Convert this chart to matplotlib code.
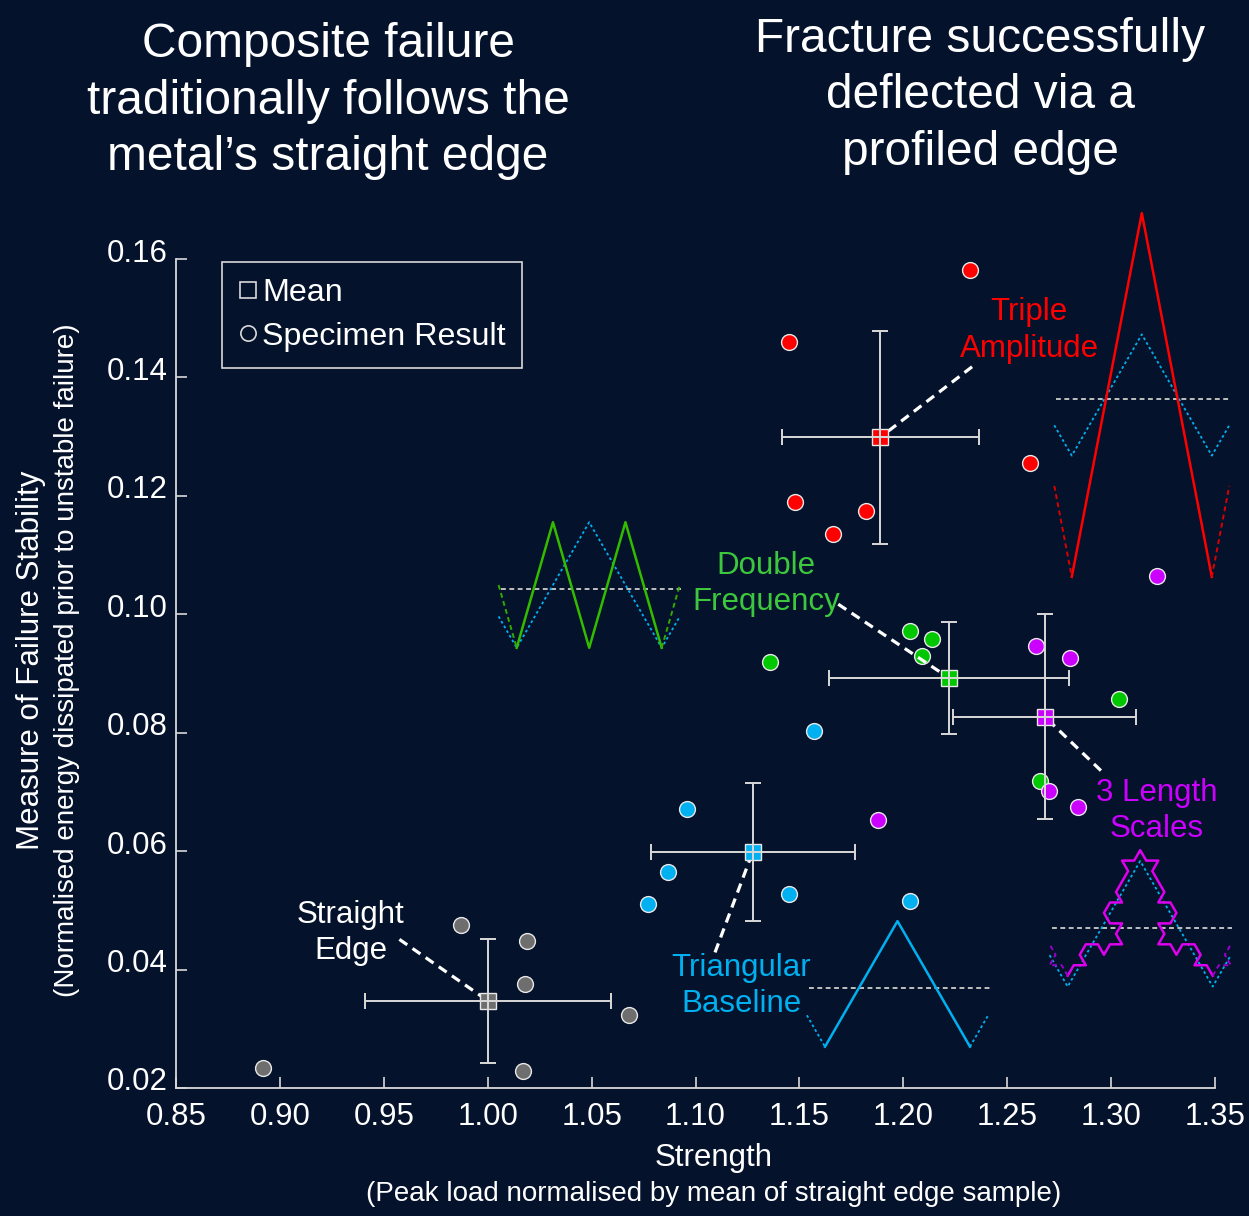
import numpy as np
import matplotlib.pyplot as plt
from matplotlib.lines import Line2D
from matplotlib.transforms import ScaledTranslation

plt.rcParams['font.family'] = ['Liberation Sans', 'DejaVu Sans']

BG = '#04122c'
W, H = 1249, 1216

# specimen results: strength vs failure stability
straight_x = [0.892, 0.987, 1.019, 1.018, 1.068, 1.017]
straight_y = [0.0234, 0.0475, 0.0448, 0.0375, 0.0323, 0.0228]
triangular_x = [1.096, 1.087, 1.077, 1.145, 1.203, 1.157]
triangular_y = [0.0671, 0.0564, 0.0511, 0.0527, 0.0515, 0.0803]
triple_x = [1.232, 1.145, 1.261, 1.148, 1.182, 1.166]
triple_y = [0.1581, 0.1460, 0.1255, 0.1189, 0.1175, 0.1135]
double_x = [1.203, 1.214, 1.209, 1.136, 1.304, 1.266]
double_y = [0.0971, 0.0959, 0.0929, 0.0920, 0.0857, 0.0719]
length3_x = [1.264, 1.280, 1.270, 1.284, 1.188, 1.322]
length3_y = [0.0946, 0.0926, 0.0701, 0.0674, 0.0653, 0.1064]

x_ticks = [0.85, 0.90, 0.95, 1.00, 1.05, 1.10, 1.15, 1.20, 1.25, 1.30, 1.35]
y_ticks = [0.02, 0.04, 0.06, 0.08, 0.10, 0.12, 0.14, 0.16]

# xs, ys, point colour, text colour, label, label pos, leader start
groups = [
    (straight_x, straight_y, '#6e6e6e', 'white', 'Straight\nEdge', (0.9342, 0.0462), (0.9575, 0.0451)),
    (triangular_x, triangular_y, '#00b0f0', '#00b0f0', 'Triangular\nBaseline', (1.1219, 0.0372), (1.1094, 0.0429)),
    (triple_x, triple_y, '#ff0000', '#ff0000', 'Triple\nAmplitude', (1.2605, 0.1479), (1.2331, 0.1418)),
    (double_x, double_y, '#00c800', '#3cc83c', 'Double\nFrequency', (1.1339, 0.1051), (1.1687, 0.1017)),
    (length3_x, length3_y, '#cc00ff', '#cc00ff', '3 Length\nScales', (1.3221, 0.0668), (1.2951, 0.0736)),
]

# edge profile sketches (units: half period of baseline triangle)
H3 = np.sqrt(3)
koch_left = [60, 0, 120, 60, 0, -60, 60, 0, 120, 60, 180, 120, 60, 0, 120, 60, 60, 120, 0, 60]

fig = plt.figure(figsize=(W / 100, H / 100), dpi=100, facecolor=BG)
ax = fig.add_axes([176 / W, 1 - 1088 / H, (1215 - 176) / W, (1088 - 259) / H])
ax.set_facecolor(BG)
ax.set_xlim(0.85, 1.35)
ax.set_ylim(0.02, 0.16)
for s in ['top', 'right']:
    ax.spines[s].set_visible(False)
for s in ['left', 'bottom']:
    ax.spines[s].set_color('#d9d9d9')
    ax.spines[s].set_linewidth(1.3)
ax.set_xticks(x_ticks)
ax.set_xticklabels(['%.2f' % v for v in x_ticks])
ax.set_yticks(y_ticks)
ax.set_yticklabels(['%.2f' % v for v in y_ticks])
ax.tick_params(direction='in', length=8, width=1.2, colors='#d9d9d9',
               labelcolor='white', labelsize=22.5)
ax.tick_params(axis='x', pad=10)
ax.tick_params(axis='y', pad=6)
off = ScaledTranslation(0, 9 / 100, fig.dpi_scale_trans)
for lab in ax.get_yticklabels():
    lab.set_transform(lab.get_transform() + off)

for xs, ys, col, tcol, label, lpos, lstart in groups:
    xs = np.array(xs)
    ys = np.array(ys)
    mx, my = xs.mean(), ys.mean()
    sx, sy = xs.std(ddof=1), ys.std(ddof=1)
    ax.scatter(xs, ys, s=130, c=col, edgecolors='#e8e8e8', linewidths=1, zorder=3)
    ax.plot([lstart[0], mx], [lstart[1], my], color='white', lw=2.3,
            ls=(0, (3, 2)), zorder=4)
    ax.plot(mx, my, marker='s', ms=11.5, mfc=col, mec='#e8e8e8', mew=1, zorder=5)
    ax.errorbar(mx, my, xerr=sx, yerr=sy, fmt='none', ecolor='#d9d9d9',
                elinewidth=1.4, capsize=5.75, capthick=1.4, zorder=6)
    ax.text(lpos[0], lpos[1], label, color=tcol, size=22.5, ha='center',
            va='center', linespacing=1.28)

handles = [
    Line2D([], [], marker='s', ls='none', mfc='none', mec='#d9d9d9', ms=11, mew=1.2),
    Line2D([], [], marker='o', ls='none', mfc='none', mec='#d9d9d9', ms=11, mew=1.2),
]
leg = ax.legend(handles, ['Mean', 'Specimen Result'], loc='upper left',
                bbox_to_anchor=((222 - 176) / 1039, (1088 - 262) / 829),
                borderaxespad=0, fancybox=False, edgecolor='#d9d9d9',
                facecolor=BG, framealpha=1, fontsize=23.2, labelcolor='white',
                handlelength=0.6, handletextpad=0.15, labelspacing=0.42,
                borderpad=0.5)
leg.get_frame().set_linewidth(1.2)

fig.text(714 / W, 1 - 1158 / H, 'Strength', ha='center', va='center',
         size=22.5, color='white')
fig.text(714 / W, 1 - 1194 / H,
         '(Peak load normalised by mean of straight edge sample)',
         ha='center', va='center', size=20, color='white')
fig.text(31 / W, 1 - 660 / H, 'Measure of Failure Stability', rotation=90,
         ha='center', va='center', size=22.5, color='white')
fig.text(67 / W, 1 - 660 / H,
         '(Normalised energy dissipated prior to unstable failure)',
         rotation=90, ha='center', va='center', size=20, color='white')

fig.text(328 / W, 1 - 101 / H,
         'Composite failure\ntraditionally follows the\nmetal\u2019s straight edge',
         ha='center', va='center', size=34.5, color='white', linespacing=1.34)
fig.text(980 / W, 1 - 96 / H,
         'Fracture successfully\ndeflected via a\nprofiled edge',
         ha='center', va='center', size=34.5, color='white', linespacing=1.34)


def profile_axes(x0, yc, unit):
    a = fig.add_axes([(x0 - 0.6 * unit) / W, 1 - (yc + 3 * unit) / H,
                      3.2 * unit / W, 6 * unit / H])
    a.set_xlim(-0.6, 2.6)
    a.set_ylim(-3, 3)
    a.axis('off')
    a.patch.set_alpha(0)
    return a


def baseline(a, ls=(0, (1.5, 1.5)), lw=1.3, col='#00b0f0'):
    a.plot([-0.25, 0, 1, 2, 2.25], [-H3 / 4, -H3 / 2, H3 / 2, -H3 / 2, -H3 / 4],
           color=col, lw=lw, ls=ls)


def midline(a):
    a.plot([-0.22, 2.27], [-0.055, -0.055], color='#bfbfbf', lw=1.4,
           ls=(0, (2.5, 1.8)))


# double frequency sketch
a = profile_axes(516.7, 585, 72.5)
midline(a)
baseline(a)
a.plot([0, 0.5, 1, 1.5, 2], [-H3 / 2, H3 / 2, -H3 / 2, H3 / 2, -H3 / 2],
       color='#33bb00', lw=1.8)
a.plot([-0.25, 0], [0, -H3 / 2], color='#33aa00', lw=1.4, ls=(0, (2.5, 1.8)))
a.plot([2, 2.25], [-H3 / 2, 0], color='#33aa00', lw=1.4, ls=(0, (2.5, 1.8)))

# triple amplitude sketch
a = profile_axes(1071.8, 395, 70)
midline(a)
baseline(a)
a.plot([0, 1, 2], [-3 * H3 / 2, 3 * H3 / 2, -3 * H3 / 2], color='#ff0000', lw=1.8)
a.plot([-0.25, 0], [-3 * H3 / 4, -3 * H3 / 2], color='#dd0000', lw=1.4, ls=(0, (2.5, 1.8)))
a.plot([2, 2.25], [-3 * H3 / 2, -3 * H3 / 4], color='#dd0000', lw=1.4, ls=(0, (2.5, 1.8)))

# triangular baseline sketch
a = profile_axes(825, 983.9, 72.5)
midline(a)
a.plot([0, 1, 2], [-H3 / 2, H3 / 2, -H3 / 2], color='#00b0f0', lw=1.8)
a.plot([-0.25, 0], [-H3 / 4, -H3 / 2], color='#00b0f0', lw=1.3, ls=(0, (1.5, 1.5)))
a.plot([2, 2.25], [-H3 / 2, -H3 / 4], color='#00b0f0', lw=1.3, ls=(0, (1.5, 1.5)))

# three length scales sketch
a = profile_axes(1067.7, 923.8, 72.5)
midline(a)
baseline(a)
seg = 2 / 12
koch_right = [-v for v in reversed(koch_left)]
start = np.array([0.0, -H3 / 2 + 0.15])
pts = [start]
for ang in koch_left + koch_right:
    t = np.radians(ang)
    pts.append(pts[-1] + seg * np.array([np.cos(t), np.sin(t)]))
pts = np.array(pts)
a.plot(pts[:, 0], pts[:, 1], color='#dd00ee', lw=1.8)
ext = [start]
for ang in reversed(koch_right[-4:]):
    t = np.radians(ang)
    ext.append(ext[-1] - seg * np.array([np.cos(t), np.sin(t)]))
ext = np.array(ext)
a.plot(ext[:, 0], ext[:, 1], color='#9900cc', lw=1.4, ls=(0, (2.5, 1.8)))
ext = [pts[-1]]
for ang in koch_left[:4]:
    t = np.radians(ang)
    ext.append(ext[-1] + seg * np.array([np.cos(t), np.sin(t)]))
ext = np.array(ext)
a.plot(ext[:, 0], ext[:, 1], color='#9900cc', lw=1.4, ls=(0, (2.5, 1.8)))

fig.savefig('out.png', dpi=100, facecolor=BG)
